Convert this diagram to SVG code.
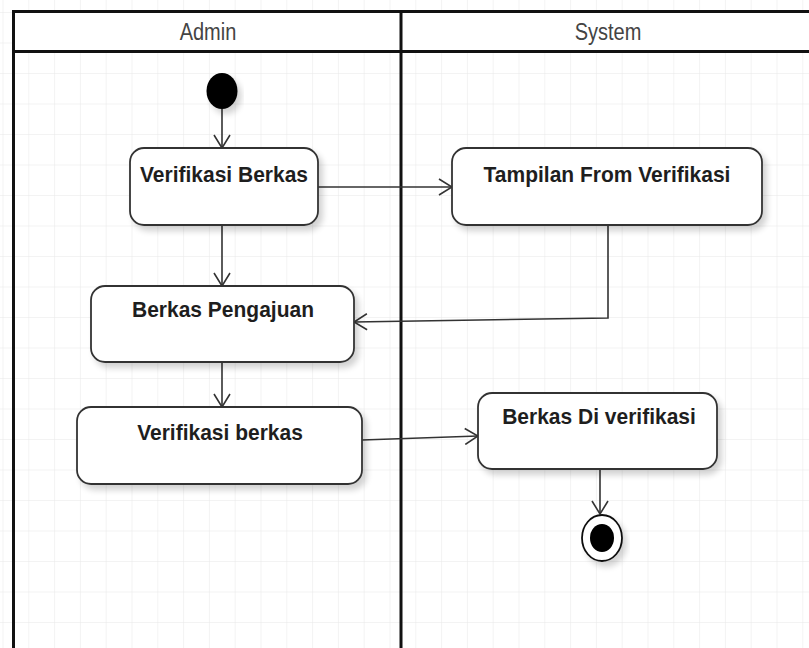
<svg xmlns="http://www.w3.org/2000/svg" width="809" height="648" viewBox="0 0 809 648">
  <style>
    .lane { fill: none; stroke: #111; stroke-width: 3; }
    .hdr { fill: #fff; stroke: #111; stroke-width: 3; }
    .hdr-text { font-family: "Liberation Sans", Arial, sans-serif; font-size: 20px; fill: #444; text-anchor: middle; }
    .act { fill: #fff; stroke: #333; stroke-width: 1.8; filter: url(#shadow); }
    .act-text { font-family: "Liberation Sans", Arial, sans-serif; font-weight: bold; font-size: 21px; fill: #1e1e1e; text-anchor: middle; }
    .flow { fill: none; stroke: #333; stroke-width: 1.6; marker-end: url(#open-arrow); }
  </style>
  <defs>
    <pattern id="grid" patternUnits="userSpaceOnUse" x="2.5" y="12" width="25.8" height="30.5">
      <path d="M 0 0 L 0 30.5 M 0 0 L 25.8 0" fill="none" stroke="#e8e8e8" stroke-width="1"/>
    </pattern>
    <filter id="shadow" x="-10%" y="-10%" width="130%" height="140%">
      <feGaussianBlur in="SourceAlpha" stdDeviation="3"/>
      <feOffset dx="4" dy="5" result="b"/>
      <feComponentTransfer><feFuncA type="linear" slope="0.18"/></feComponentTransfer>
      <feMerge><feMergeNode/><feMergeNode in="SourceGraphic"/></feMerge>
    </filter>
    <marker id="open-arrow" viewBox="0 0 15 18" refX="14" refY="9" markerWidth="15" markerHeight="18" markerUnits="userSpaceOnUse" orient="auto">
      <path d="M 1 1 L 14 9 L 1 17" fill="none" stroke="#333" stroke-width="1.6"/>
    </marker>
  </defs>

  <!-- canvas -->
  <rect x="0" y="0" width="809" height="648" fill="#fff"/>
  <rect x="0" y="0" width="809" height="648" fill="url(#grid)"/>

  <!-- swimlanes -->
  <g id="lanes">
    <rect class="hdr" x="13.5" y="11.5" width="800" height="40"/>
    <line class="lane" x1="13.5" y1="11.5" x2="13.5" y2="652"/>
    <line class="lane" x1="401" y1="11.5" x2="401" y2="652"/>
    <text class="hdr-text" transform="translate(208 39.5) scale(1 1.15)">Admin</text>
    <text class="hdr-text" transform="translate(608 39.5) scale(1 1.15)">System</text>
  </g>

  <!-- connectors -->
  <g id="connectors">
    <line class="flow" x1="222" y1="109" x2="222" y2="148"/>
    <line class="flow" x1="318" y1="187" x2="452" y2="187"/>
    <line class="flow" x1="222" y1="225" x2="222" y2="286"/>
    <polyline class="flow" points="608,225 608,318 354,322"/>
    <line class="flow" x1="222" y1="362" x2="222" y2="407"/>
    <line class="flow" x1="362" y1="440" x2="478" y2="436"/>
    <line class="flow" x1="600" y1="469" x2="600" y2="514"/>
  </g>

  <!-- start -->
  <g id="start">
    <ellipse cx="222" cy="91" rx="15.5" ry="18" fill="#000" filter="url(#shadow)"/>
  </g>

  <g id="verifikasi-berkas-1">
    <rect class="act" x="130" y="148" width="188" height="77" rx="14" ry="14"/>
    <text class="act-text" transform="translate(224 182) scale(1 1.08)">Verifikasi Berkas</text>
  </g>

  <g id="tampilan-form">
    <rect class="act" x="452" y="148" width="310" height="77" rx="14" ry="14"/>
    <text class="act-text" transform="translate(607 182) scale(1 1.08)">Tampilan From Verifikasi</text>
  </g>

  <g id="berkas-pengajuan">
    <rect class="act" x="91" y="286" width="263" height="76" rx="14" ry="14"/>
    <text class="act-text" transform="translate(223 317) scale(1 1.08)">Berkas Pengajuan</text>
  </g>

  <g id="verifikasi-berkas-2">
    <rect class="act" x="77" y="407" width="285" height="77" rx="14" ry="14"/>
    <text class="act-text" transform="translate(220 440) scale(1 1.08)">Verifikasi berkas</text>
  </g>

  <g id="berkas-diverifikasi">
    <rect class="act" x="478" y="393" width="239" height="76" rx="14" ry="14"/>
    <text class="act-text" transform="translate(599 424) scale(1 1.08)">Berkas Di verifikasi</text>
  </g>

  <!-- end -->
  <g id="end">
    <ellipse cx="602" cy="538" rx="20" ry="23" fill="#fff" stroke="#111" stroke-width="1.8" filter="url(#shadow)"/>
    <ellipse cx="602" cy="538" rx="12" ry="14" fill="#000"/>
  </g>
</svg>
